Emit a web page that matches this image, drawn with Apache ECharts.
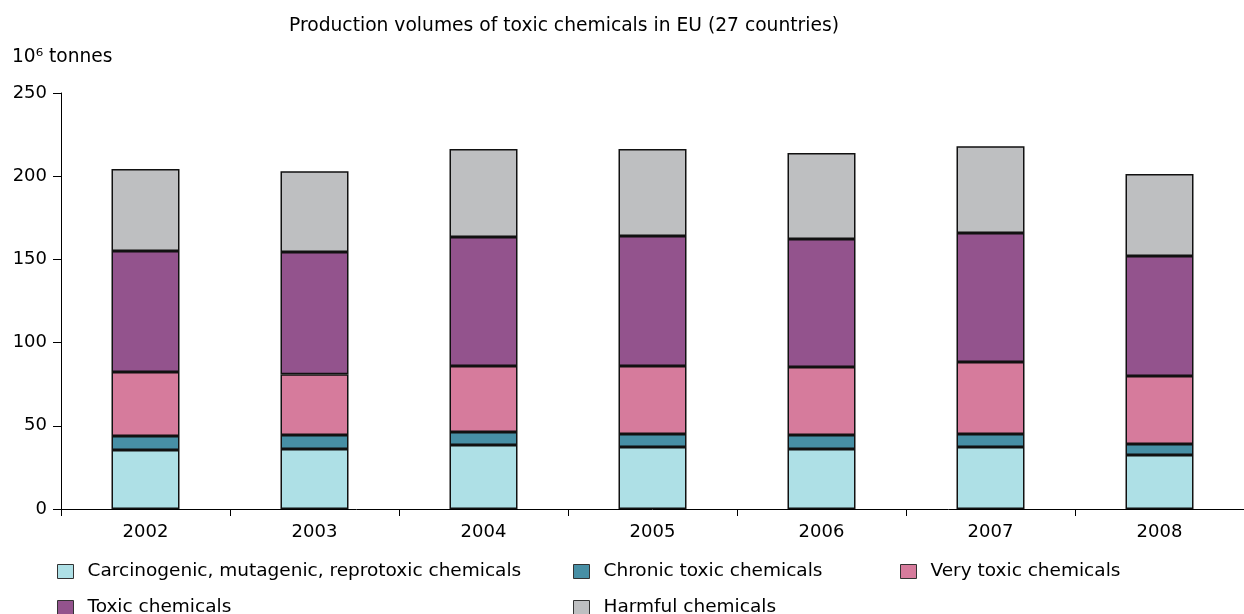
<!DOCTYPE html>
<html>
<head>
<meta charset="utf-8">
<script src="https://cdn.jsdelivr.net/npm/echarts@6/dist/echarts.min.js"></script>
<style>
  html, body { margin: 0; padding: 0; background: #fff; }
  #chart { width: 1244px; height: 614px; }
</style>
</head>
<body>
<div id="chart"></div>
<script>
// categories and stacked segment values (10^6 tonnes)
const years = ['2002', '2003', '2004', '2005', '2006', '2007', '2008']
const carcinogenic = [35.5, 36, 38.5, 37.3, 36, 37.3, 32.5]
const chronic = [8.4, 8.5, 7.8, 7.7, 8.5, 7.7, 6.5]
const veryToxic = [38.4, 36.5, 39.6, 41, 40.8, 43.3, 41]
const toxic = [72.7, 73.4, 77.6, 78, 77, 77.6, 72]
const harmful = [49.3, 48.6, 52.8, 52.3, 51.7, 52.1, 49.3]

const font = '"DejaVu Sans", Verdana, sans-serif'
const textColor = '#000'

const seriesDefs = [
  { name: 'Carcinogenic, mutagenic, reprotoxic chemicals', data: carcinogenic, color: '#AEE0E6' },
  { name: 'Chronic toxic chemicals', data: chronic, color: '#478FA5' },
  { name: 'Very toxic chemicals', data: veryToxic, color: '#D67B9C' },
  { name: 'Toxic chemicals', data: toxic, color: '#93538D' },
  { name: 'Harmful chemicals', data: harmful, color: '#BEBFC1' }
]

// legend positions: [left, top]
const legendPos = [[57, 562], [573, 562], [900, 562], [57, 598], [573, 598]]

const chart = echarts.init(document.getElementById('chart'))
chart.setOption({
  animation: false,
  title: {
    text: 'Production volumes of toxic chemicals in EU (27 countries)',
    left: 289, top: 17, padding: 0,
    textStyle: { fontFamily: font, fontSize: 18.7, fontWeight: 'normal', color: textColor }
  },
  graphic: [{
    type: 'text', left: 12, top: 48,
    style: { text: '10\u2076 tonnes', font: '18.6px ' + font, fill: textColor }
  }],
  legend: seriesDefs.map((s, i) => ({
    data: [s.name],
    left: legendPos[i][0], top: legendPos[i][1],
    padding: 0,
    itemWidth: 16, itemHeight: 14, itemGap: 0,
    icon: 'rect',
    itemStyle: { borderColor: '#333', borderWidth: 1 },
    textStyle: { fontFamily: font, fontSize: 18.5, color: textColor, padding: [0, 0, 0, 9] }
  })),
  grid: { left: 61, top: 93, width: 1196, height: 416 },
  xAxis: {
    type: 'category',
    data: years,
    axisLine: { lineStyle: { color: '#000', width: 1 } },
    axisTick: { show: true, inside: false, length: 7, lineStyle: { color: '#000' } },
    axisLabel: { color: textColor, fontFamily: font, fontSize: 18, margin: 14 }
  },
  yAxis: {
    type: 'value',
    min: 0, max: 250, interval: 50,
    axisLine: { show: true, lineStyle: { color: '#000', width: 1 } },
    axisTick: { show: true, length: 8, lineStyle: { color: '#000' } },
    axisLabel: { color: textColor, fontFamily: font, fontSize: 18, margin: 14 },
    splitLine: { show: false }
  },
  series: seriesDefs.map(s => ({
    name: s.name,
    type: 'bar',
    stack: 'total',
    barWidth: 68,
    data: s.data,
    itemStyle: { color: s.color, borderColor: '#111', borderWidth: 1.5 }
  }))
})
</script>
</body>
</html>
